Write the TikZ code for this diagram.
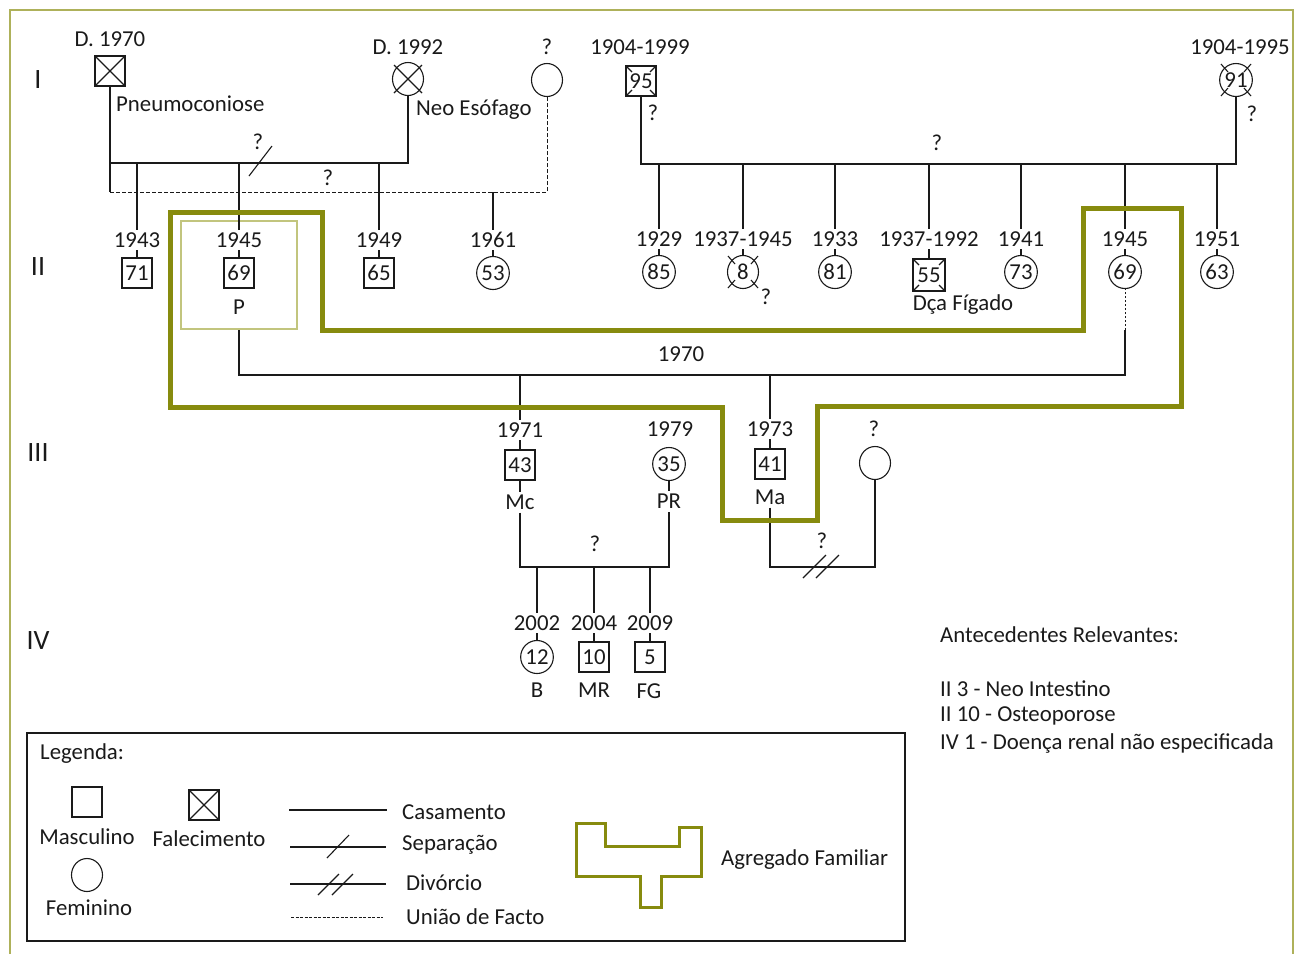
\documentclass[tikz,border=0pt]{standalone}
\usepackage{fontspec}
\setmainfont{Carlito}
\usetikzlibrary{shapes.geometric}
\definecolor{ink}{HTML}{1A1A1A}
\definecolor{agr}{HTML}{878B0E}
\definecolor{agrl}{HTML}{C2C57E}
\definecolor{frm}{HTML}{AEB15A}
\newcommand{\fsz}{\fontsize{22.8}{27}\selectfont}
\newcommand{\gsz}{\fontsize{28}{32}\selectfont}
\begin{document}
\begin{tikzpicture}[x=1pt,y=-1pt,
  every node/.style={text=ink, font=\fsz},
  txt/.style={inner sep=0pt},
  gen/.style={inner sep=0pt, font=\gsz},
  yr/.style={inner sep=2.5pt},
  msym/.style={draw=ink, line width=1.1pt, minimum size=30pt, inner sep=0pt},
  fsym/.style={draw=ink, line width=1.1pt, ellipse, minimum width=31pt, minimum height=33pt, inner sep=0pt},
  ln/.style={draw=ink, line width=1.1pt},
  uniao/.style={draw=ink, line width=1pt, dash pattern=on 4pt off 2pt},
  agregado/.style={draw=agr, line width=5pt, line join=miter},
  slash/.style={draw=ink, line width=1.1pt}]
\useasboundingbox (0,0) rectangle (1294,954);
% frame
\draw[frm, line width=1.2pt] (10,954) -- (10,10) -- (1293,10) -- (1293,954);

% generation labels
\node[gen] (gI) at (38,80) {I};
\node[gen] (gII) at (38,267) {II};
\node[gen] (gIII) at (38,453) {III};
\node[gen] (gIV) at (38,641) {IV};

% helper levels
\coordinate (m1) at (0,163);
\coordinate (u1) at (0,192);
\coordinate (m2) at (0,164);
\coordinate (m3) at (0,375);
\coordinate (m4) at (0,567);
\coordinate (gl) at (0,330);

% ---------- Generation I (left) ----------
\node[msym] (a1) at (110,71) {};
\draw[ln] (a1.north west) -- (a1.south east) (a1.north east) -- (a1.south west);
\node[txt] (a1d) at (110,39) {D. 1970};
\node[txt, anchor=west] (a1t) at (116,104) {Pneumoconiose};

\node[fsym] (a2) at (408,79) {};
\draw[ln, shift={(a2.center)}] (-14,-14) -- (14,14) (14,-14) -- (-14,14);
\node[txt] (a2d) at (408,47) {D. 1992};
\node[txt, anchor=west] (a2t) at (416,110) {Neo Esófago};

\node[fsym] (a3) at (547,80) {};
\node[txt] (a3d) at (547,47) {?};

\draw[ln] (a1.south) -- (a1.south |- u1);
\draw[ln] (a1.south |- m1) -- (a2.south |- m1) -- (a2.south);
\draw[uniao] (a1.south |- u1) -- (a3.south |- u1) -- (a3.south);
\coordinate (sepA) at (249,176);
\coordinate (sepB) at (272,146);
\draw[slash] (sepA) -- (sepB);
\node[txt] (q1) at (258,142) {?};
\node[txt] (q2) at (328,178) {?};

% ---------- Generation I (right) ----------
\node[msym] (b1) at (641,81) {95};
\draw[ln, shift={(b1.center)}] (-15,-15) -- (-9,-9) (15,-15) -- (9,-9) (-15,15) -- (-9,9) (15,15) -- (9,9);
\node[txt] (b1d) at (640,47) {1904-1999};
\node[txt] (b1q) at (653,113) {?};
\node[fsym] (b2) at (1236,80) {91};
\draw[ln, shift={(b2.center)}] (-8,-8) -- (-15,-16) (8,-8) -- (15,-16) (-8,8) -- (-15,16) (8,8) -- (15,16);
\node[txt] (b2d) at (1240,47) {1904-1995};
\node[txt] (b2q) at (1252,114) {?};
\draw[ln] (b1.south) -- (b1.south |- m2) -- (b2.south |- m2) -- (b2.south);
\node[txt] (q3) at (937,143) {?};

% ---------- Generation II (left) ----------
\node[yr] (y1) at (137,240) {1943};
\node[msym] (c1) at (137,273) {71};
\node[yr] (y2) at (239,240) {1945};
\node[msym] (c2) at (239,273) {69};
\node[txt] (c2p) at (239,307) {P};
\node[draw=agrl, line width=2.5pt, minimum width=116pt, minimum height=108pt, inner sep=0pt] (pbox) at (239,275) {};
\node[yr] (y3) at (379,240) {1949};
\node[msym] (c3) at (379,273) {65};
\node[yr] (y4) at (493,240) {1961};
\node[fsym] (c4) at (493,273) {53};
\foreach \i in {1,2,3} {
  \draw[ln] (y\i.north |- m1) -- (y\i.north);
  \draw[ln] (y\i.south) -- (c\i.north);
}
\draw[ln] (y4.north |- u1) -- (y4.north);
\draw[ln] (y4.south) -- (c4.north);

% ---------- Generation II (right) ----------
\node[yr] (z1) at (659,239) {1929};
\node[fsym] (d1) at (659,272) {85};
\node[yr] (z2) at (743,239) {1937-1945};
\node[fsym] (d2) at (743,272) {8};
\draw[ln, shift={(d2.center)}] (-8,-8) -- (-15,-16) (8,-8) -- (15,-16) (-8,8) -- (-15,16) (8,8) -- (15,16);
\node[txt] (d2q) at (766,297) {?};
\node[yr] (z3) at (835,239) {1933};
\node[fsym] (d3) at (835,272) {81};
\node[yr] (z4) at (929,239) {1937-1992};
\node[msym, minimum size=32pt] (d4) at (929,275) {55};
\draw[ln, shift={(d4.center)}] (-16,-16) -- (-10,-10) (16,-16) -- (10,-10) (-16,16) -- (-10,10) (16,16) -- (10,10);
\node[txt] (d4t) at (963,305) {Dça Fígado};
\node[yr] (z5) at (1021,239) {1941};
\node[fsym] (d5) at (1021,272) {73};
\node[yr] (z6) at (1125,239) {1945};
\node[fsym] (d6) at (1125,272) {69};
\node[yr] (z7) at (1217,239) {1951};
\node[fsym] (d7) at (1217,272) {63};
\foreach \i in {1,...,7} {
  \draw[ln] (z\i.north |- m2) -- (z\i.north);
  \draw[ln] (z\i.south) -- (d\i.north);
}

% marriage 1970
\draw[ln] (pbox.south) -- (pbox.south |- m3) -- (d6.south |- m3) -- (d6.south |- gl);
\draw[draw=ink, line width=1pt, dash pattern=on 2pt off 2pt] (d6.south |- gl) -- (d6.south);
\node[txt] (t1970) at (681,354) {1970};

% ---------- Generation III ----------
\node[yr] (w1) at (520,430) {1971};
\node[msym] (e1) at (520,465) {43};
\node[txt] (e1t) at (520,502) {Mc};
\node[yr] (w2) at (770,429) {1973};
\node[msym] (e2) at (770,464) {41};
\node[txt] (e2t) at (770,497) {Ma};
\draw[ln] (w1.north |- m3) -- (w1.north);
\draw[ln] (w1.south) -- (e1.north);
\draw[ln] (w2.north |- m3) -- (w2.north);
\draw[ln] (w2.south) -- (e2.north);

\node[txt] (w3) at (670,429) {1979};
\node[fsym] (e3) at (669,464) {35};
\node[txt] (e3t) at (669,501) {PR};
\node[txt] (w4) at (874,429) {?};
\node[fsym] (e4) at (875,463) {};

\draw[ln] (e1.south) -- ([yshift=2pt]e1t.north);
\draw[ln] (e3.south) -- ([yshift=2pt]e3t.north);
\draw[ln] ([yshift=-3pt]e1t.south) -- (e1t.south |- m4) -- (e3t.south |- m4) -- ([yshift=-3pt]e3t.south);
\node[txt] (q4) at (595,544) {?};
\draw[ln] ([yshift=-3pt]e2t.south) -- (e2t.south |- m4) -- (e4.south |- m4) -- (e4.south);
\coordinate (dv1a) at (803,578);
\coordinate (dv1b) at (826,555);
\coordinate (dv2a) at (816,578);
\coordinate (dv2b) at (839,555);
\draw[slash] (dv1a) -- (dv1b) (dv2a) -- (dv2b);
\node[txt] (q5) at (822,541) {?};

% agregado familiar
\draw[agregado] (170,212) -- (322,212) -- (322,330) -- (1083,330) -- (1083,208) -- (1181,208)
  -- (1181,406) -- (817,406) -- (817,520) -- (722,520) -- (722,407) -- (170,407) -- cycle;

% ---------- Generation IV ----------
\node[yr] (v1) at (537,623) {2002};
\node[fsym] (f1) at (537,657) {12};
\node[txt] (f1t) at (537,690) {B};
\node[yr] (v2) at (594,623) {2004};
\node[msym] (f2) at (594,657) {10};
\node[txt] (f2t) at (594,690) {MR};
\node[yr] (v3) at (650,623) {2009};
\node[msym] (f3) at (650,657) {5};
\node[txt] (f3t) at (649,691) {FG};
\foreach \i in {1,2,3} {
  \draw[ln] (v\i.north |- m4) -- (v\i.north);
  \draw[ln] (v\i.south) -- (f\i.north);
}

% antecedentes
\node[txt, anchor=west] (ant) at (940,635) {Antecedentes Relevantes:};
\node[txt, anchor=west] (ant1) at (940,689) {II 3 - Neo Intestino};
\node[txt, anchor=west] (ant2) at (940,716) {II 10 - Osteoporose};
\node[txt, anchor=west] (ant3) at (940,743) {IV 1 - Doença renal não especificada};

% ---------- Legend ----------
\draw[draw=ink, line width=1.2pt] (27,733) rectangle (905,941);
\node[txt, anchor=west] (leg) at (40,754) {Legenda:};
\node[msym] (lm) at (87,802) {};
\node[txt] (lmt) at (87,837) {Masculino};
\node[fsym] (lf) at (87,875) {};
\node[txt] (lft) at (89,908) {Feminino};
\node[msym] (ld) at (204,805) {};
\draw[ln] (ld.north west) -- (ld.south east) (ld.north east) -- (ld.south west);
\node[txt] (ldt) at (209,839) {Falecimento};

\coordinate (lc1) at (289,810); \coordinate (lc2) at (387,810);
\draw[ln] (lc1) -- (lc2);
\node[txt, anchor=west] (lct) at (402,812) {Casamento};
\coordinate (ls1) at (290,847); \coordinate (ls2) at (386,847);
\draw[ln] (ls1) -- (ls2);
\draw[slash] (327,858) -- (349,835);
\node[txt, anchor=west] (lst) at (402,845) {Separação};
\coordinate (lv1) at (290,884); \coordinate (lv2) at (386,884);
\draw[ln] (lv1) -- (lv2);
\draw[slash] (318,895) -- (339,874) (332,895) -- (353,874);
\node[txt, anchor=west] (lvt) at (406,883) {Divórcio};
\coordinate (lu1) at (291,917); \coordinate (lu2) at (383,917);
\draw[draw=ink, line width=0.8pt, dash pattern=on 3pt off 1.5pt] (lu1) -- (lu2);
\node[txt, anchor=west] (lut) at (406,917) {União de Facto};

\draw[draw=agr, line width=3pt, line join=miter] (576,823) -- (605,823) -- (605,846) -- (679,846) -- (679,827) -- (701,827)
  -- (701,876) -- (661,876) -- (661,907) -- (640,907) -- (640,876) -- (576,876) -- cycle;
\node[txt, anchor=west] (lat) at (721,860) {Agregado Familiar};
\end{tikzpicture}
\end{document}
